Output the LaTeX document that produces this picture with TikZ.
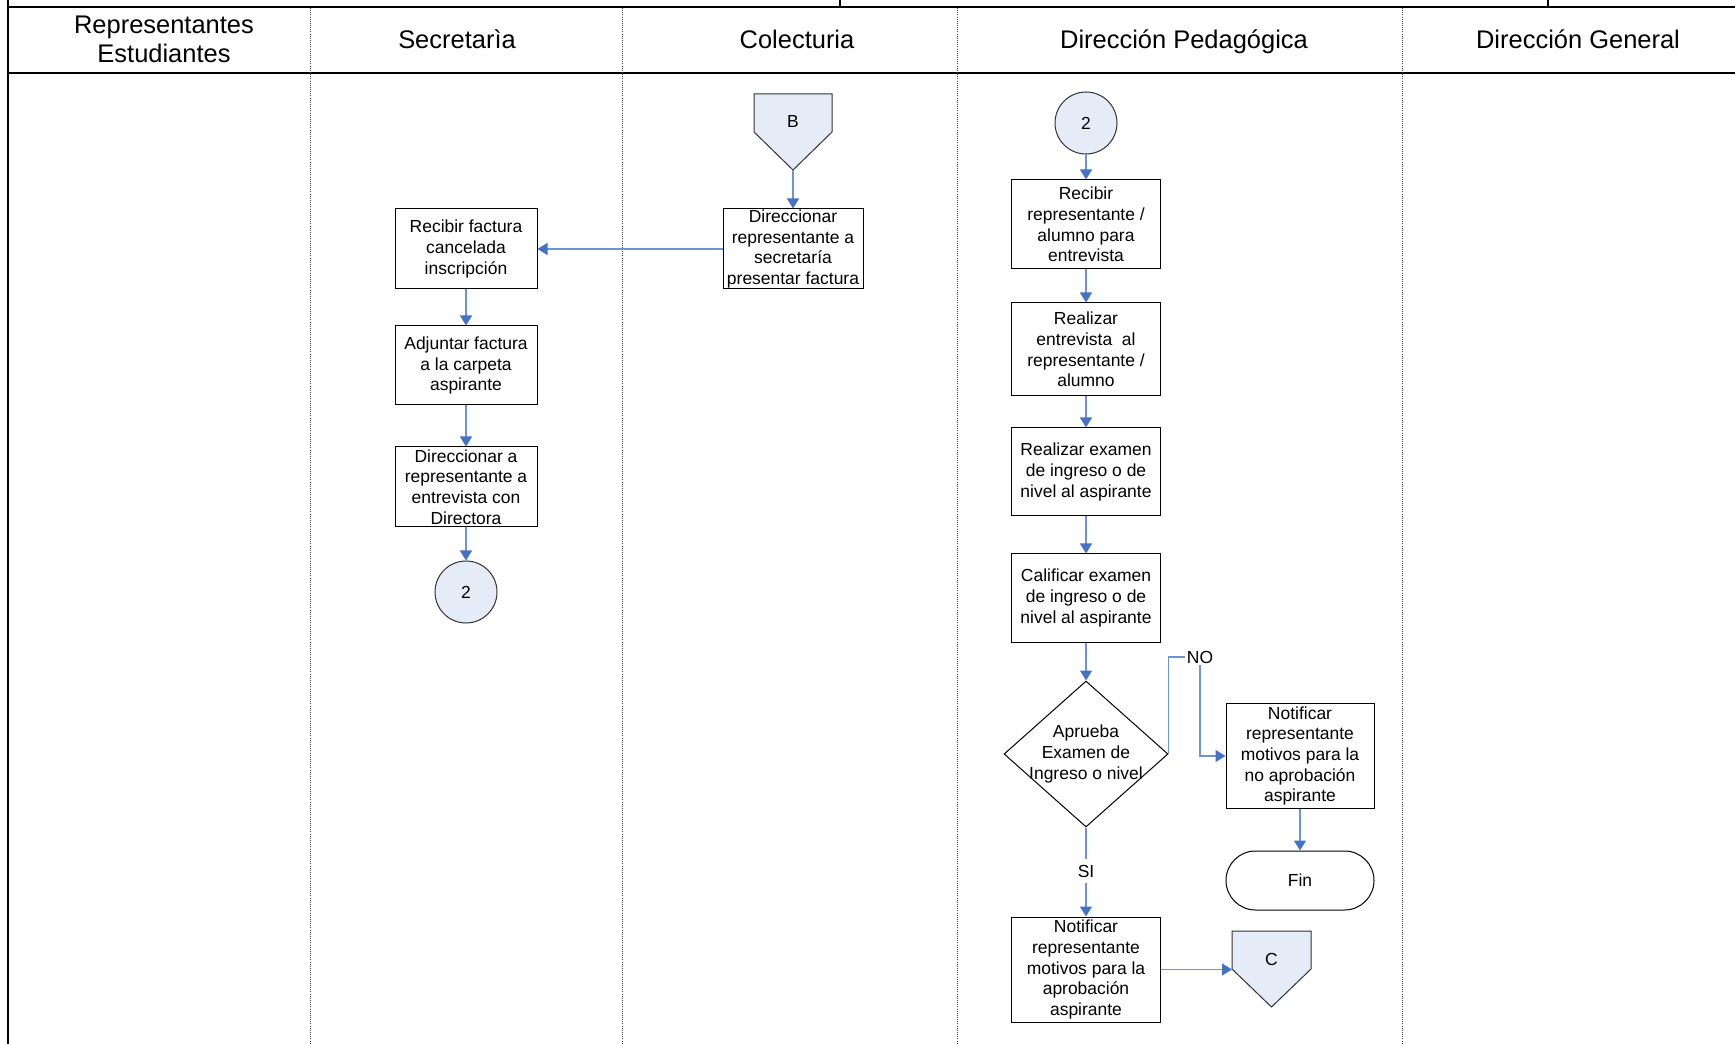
\documentclass[tikz,border=0pt]{standalone}
\usepackage{fontspec}
\setmainfont{Liberation Sans}
\usetikzlibrary{arrows.meta,shapes.geometric,shapes.misc}
\definecolor{flowblue}{RGB}{111,146,212}
\definecolor{tipblue}{RGB}{68,114,196}
\definecolor{connfill}{RGB}{230,236,247}

\begin{document}
\begin{tikzpicture}[x=0.75pt,y=-0.75pt,
  boxtxt/.style={font=\fontsize{13.1}{15.4}\selectfont, align=center},
  process/.style={boxtxt, rectangle, draw=black, line width=0.75pt, fill=white, inner sep=0pt},
  connector/.style={boxtxt, circle, draw=black!80, line width=0.75pt, fill=connfill, minimum size=46.5pt, inner sep=0pt},
  decision/.style={diamond, draw=black, line width=0.75pt, fill=white, inner sep=0pt, minimum width=123pt, minimum height=109.5pt},
  terminal/.style={boxtxt, rounded rectangle, draw=black, line width=0.75pt, fill=white, inner sep=0pt, minimum width=111pt, minimum height=44.25pt},
  offpage/.style={draw=black!80, line width=0.75pt, fill=connfill},
  flowline/.style={draw=flowblue, line width=0.9pt},
  flow/.style={flowline, -{Triangle[length=7.5pt,width=9pt,color=tipblue]}},
  flowlabel/.style={boxtxt, inner sep=1.5pt},
  lanesep/.style={densely dotted, line width=0.6pt, black!75},
  header/.style={font=\fontsize{19.1}{21.8}\selectfont, align=center}
]
\useasboundingbox (0,0) rectangle (1735,1044);

% frame of the swimlane table
\draw[line width=1pt] (840,0) -- (840,7);
\draw[line width=1pt] (1548,0) -- (1548,7);
\draw[line width=1.9pt] (8,7) -- (1735,7);
\draw[line width=2pt] (8,0) -- (8,1044);
\draw[line width=0.9pt] (8,73) -- (1735,73);
\foreach \x in {310,622,957,1402}
  \draw[lanesep] (\x,8) -- (\x,1044);

% lane titles
\node[header] (h1) at (164,39) {Representantes\\Estudiantes};
\node[header, anchor=base] (h2) at (457,48.5) {Secretarìa};
\node[header, anchor=base] (h3) at (797,48.5) {Colecturia};
\node[header, anchor=base] (h4) at (1184,48.5) {Dirección Pedagógica};
\node[header, anchor=base] (h5) at (1578,48.5) {Dirección General};

% Colecturia
\draw[offpage] (754,94) -- (832,94) -- (832,132) -- (793,170) -- (754,132) -- cycle;
\node[boxtxt, inner sep=0pt] (B) at (793,121) {B};
\coordinate (Btip) at (793,170);
\node[process, minimum width=105pt, minimum height=60pt] (col1) at (793,249)
  {Direccionar\\representante a\\secretaría\\presentar factura};

% Secretaria
\node[process, minimum width=106.5pt, minimum height=60pt] (sec1) at (466,249)
  {Recibir factura\\cancelada\\inscripción};
\node[process, minimum width=106.5pt, minimum height=59.25pt] (sec2) at (466,365.5)
  {Adjuntar factura\\a la carpeta\\aspirante};
\node[process, minimum width=106.5pt, minimum height=60pt] (sec3) at (466,487)
  {Direccionar a\\representante a\\entrevista con\\Directora};
\node[connector] (c2a) at (466,592) {2};

% Direccion Pedagogica
\node[connector] (c2b) at (1086,123) {2};
\node[process, minimum width=111.75pt, minimum height=66.75pt] (dp1) at (1086,224.5)
  {Recibir\\representante /\\alumno para\\entrevista};
\node[process, minimum width=111.75pt, minimum height=69.75pt] (dp2) at (1086,349.5)
  {Realizar\\entrevista\ \ al\\representante /\\alumno};
\node[process, minimum width=111.75pt, minimum height=66pt] (dp3) at (1086,472)
  {Realizar examen\\de ingreso o de\\nivel al aspirante};
\node[process, minimum width=111.75pt, minimum height=66pt] (dp4) at (1086,598)
  {Calificar examen\\de ingreso o de\\nivel al aspirante};
\node[decision] (dec) at (1086,754) {};
\node[boxtxt, inner sep=0pt] (dectxt) at (dec) {Aprueba\\Examen de\\Ingreso o nivel};
\node[flowlabel] (nolab) at (1200,657) {NO};
\node[flowlabel, inner sep=4pt] (silab) at (1086,871) {SI};
\node[process, minimum width=111pt, minimum height=78.75pt] (notno) at (1300,756)
  {Notificar\\representante\\motivos para la\\no aprobación\\aspirante};
\node[terminal] (fin) at (1300,880.5) {Fin};
\node[process, minimum width=111.75pt, minimum height=78.75pt] (notsi) at (1086,969.5)
  {Notificar\\representante\\motivos para la\\aprobación\\aspirante};
\draw[offpage] (1232,931) -- (1311,931) -- (1311,969) -- (1271.5,1007) -- (1232,969) -- cycle;
\node[boxtxt, inner sep=0pt] (C) at (1271.5,959) {C};
\coordinate (Cin) at (1232,969.5);

% flow connectors
\draw[flow] (Btip) -- (col1.north);
\draw[flow] (col1.west) -- (sec1.east);
\draw[flow] (sec1.south) -- (sec2.north);
\draw[flow] (sec2.south) -- (sec3.north);
\draw[flow] (sec3.south) -- (c2a.north);
\draw[flow] (c2b.south) -- (dp1.north);
\draw[flow] (dp1.south) -- (dp2.north);
\draw[flow] (dp2.south) -- (dp3.north);
\draw[flow] (dp3.south) -- (dp4.north);
\draw[flow] (dp4.south) -- (dec.north);
\draw[flowline] (dec.east) |- (nolab.west);
\draw[flow] (nolab.south) |- (notno.west);
\draw[flowline] (dec.south) -- (silab.north);
\draw[flow] (silab.south) -- (notsi.north);
\draw[flow] (notno.south) -- (fin.north);
\draw[flow] (notsi.east) -- (Cin);
\end{tikzpicture}
\end{document}
